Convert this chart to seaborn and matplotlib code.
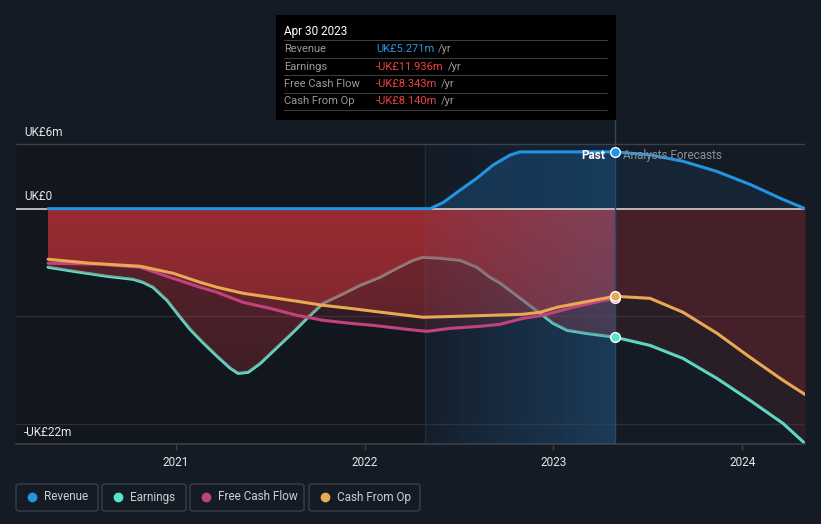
import numpy as np
import pandas as pd
import matplotlib
matplotlib.use("Agg")
import matplotlib.pyplot as plt
from matplotlib.patches import FancyBboxPatch, Rectangle, PathPatch
from matplotlib.lines import Line2D
from matplotlib.colors import to_rgb
import seaborn as sns

# ---------------- data (UK£ m, x in decimal years) ----------------
revenue_years = [2020.322, 2022.346, 2022.415, 2022.505, 2022.595, 2022.680, 2022.770, 2022.823, 2023.326]
revenue_vals = [0.0, 0.0, 0.56, 1.72, 2.84, 4.05, 4.98, 5.27, 5.271]

earnings_years = [2020.322, 2020.454, 2020.634, 2020.772, 2020.825, 2020.878, 2020.952, 2021.021,
                  2021.074, 2021.143, 2021.217, 2021.286, 2021.329, 2021.382, 2021.445, 2021.535,
                  2021.620, 2021.694, 2021.779, 2021.869, 2021.975, 2022.081, 2022.171, 2022.256,
                  2022.309, 2022.399, 2022.505, 2022.595, 2022.664, 2022.717, 2022.839, 2022.929,
                  2022.998, 2023.072, 2023.178, 2023.326]
earnings_vals = [-5.44, -5.81, -6.28, -6.56, -6.84, -7.30, -8.51, -10.05, -11.2, -12.45, -13.7,
                 -14.8, -15.30, -15.2, -14.4, -12.9, -11.49, -10.19, -8.79, -8.05, -7.12, -6.37,
                 -5.53, -4.79, -4.51, -4.60, -4.79, -5.44, -6.37, -6.9, -8.51, -9.72, -10.65,
                 -11.30, -11.6, -11.936]

fcf_years = [2020.322, 2020.597, 2020.809, 2020.984, 2021.127, 2021.217, 2021.355, 2021.498, 2021.641,
             2021.779, 2021.922, 2022.044, 2022.224, 2022.330, 2022.452, 2022.611, 2022.717, 2022.839,
             2022.945, 2023.104, 2023.247, 2023.326]
fcf_vals = [-5.07, -5.16, -5.44, -6.47, -7.30, -7.77, -8.70, -9.26, -9.91, -10.37, -10.65, -10.84,
            -11.21, -11.40, -11.12, -10.93, -10.74, -10.19, -9.91, -9.16, -8.60, -8.343]

cfo_years = [2020.322, 2020.544, 2020.809, 2020.984, 2021.127, 2021.217, 2021.355, 2021.498, 2021.641,
             2021.779, 2021.922, 2022.044, 2022.224, 2022.309, 2022.489, 2022.664, 2022.839, 2022.929,
             2023.019, 2023.157, 2023.326]
cfo_vals = [-4.70, -5.07, -5.35, -6.00, -6.84, -7.30, -7.86, -8.23, -8.60, -8.98, -9.26, -9.53,
            -9.91, -10.09, -10.00, -9.91, -9.81, -9.63, -9.16, -8.70, -8.140]

fc_years = [2023.326, 2023.512, 2023.687, 2023.867, 2024.042, 2024.217, 2024.333]
revenue_fc = [5.271, 5.0, 4.4, 3.45, 2.25, 0.85, 0.0]
earnings_fc = [-11.936, -12.70, -13.91, -15.77, -17.81, -19.95, -21.81]
cfo_fc = [-8.140, -8.33, -9.63, -11.58, -13.81, -15.95, -17.26]

year_ticks = [2021, 2022, 2023, 2024]
y_labels = ["UK£6m", "UK£0", "-UK£22m"]
series_names = ["Revenue", "Earnings", "Free Cash Flow", "Cash From Op"]
tooltip_date = "Apr 30 2023"
tooltip_values = ["UK£5.271m", "-UK£11.936m", "-UK£8.343m", "-UK£8.140m"]

# ---------------- style ----------------
BG = "#151b24"
C_REV = "#2394df"
C_EARN = "#58e3cc"
C_FCF = "#c4417f"
C_CFO = "#e9a852"
C_FILL = "#be323a"

sns.set_theme(style="dark")
plt.rcParams["font.family"] = ["Roboto", "DejaVu Sans"]

W, H = 821, 524
fig = plt.figure(figsize=(W / 100, H / 100), dpi=100, facecolor=BG)


def fx(px):
    return px / W


def fy(py):
    return 1 - py / H


ax = fig.add_axes([fx(16), fy(444), fx(805) - fx(16), fy(118) - fy(444)])
ax.set_facecolor(BG)
x0, x1 = 2020.152, 2024.333
y0, y1 = -21.86, 8.42
ax.set_xlim(x0, x1)
ax.set_ylim(y0, y1)
for s in ["top", "right", "left"]:
    ax.spines[s].set_visible(False)
ax.spines["bottom"].set_color("#3a4049")
ax.spines["bottom"].set_linewidth(1.2)
ax.grid(False)

split = revenue_years[-1]
hl_start = 2022.32
top_grid = 6


def grad_fill(xs, ys, color, a_top, a_bot, z, top=0.0, bottom=y0):
    poly = ax.fill_between(xs, 0, ys, facecolor="none", lw=0)
    clip = PathPatch(poly.get_paths()[0], transform=ax.transData, facecolor="none", edgecolor="none")
    ax.add_patch(clip)
    n = 256
    rgba = np.zeros((n, 1, 4))
    rgba[:, 0, :3] = to_rgb(color)
    rgba[:, 0, 3] = np.linspace(a_top, a_bot, n)
    im = ax.imshow(rgba, extent=[min(xs), max(xs), bottom, top], aspect="auto",
                   origin="upper", zorder=z, interpolation="bilinear")
    im.set_clip_path(clip)
    ax.set_xlim(x0, x1)
    ax.set_ylim(y0, y1)


# darker area left of highlight (below the top grid line)
ax.fill_between([x0, hl_start], y0, top_grid, color="#0c0f14", alpha=0.3, lw=0, zorder=0)

# highlight band gradient (blue) under the fills
grad = np.linspace(0.0, 1.0, 256).reshape(1, -1)
cmap_hl = matplotlib.colors.LinearSegmentedColormap.from_list("hl", ["#141b26", "#12263a"])
ax.imshow(grad, extent=[hl_start, split, y0, top_grid], aspect="auto", cmap=cmap_hl,
          zorder=0.5, origin="lower")
ax.plot([hl_start, hl_start], [y0, top_grid], color="#1d2c3b", lw=1, zorder=0.6)
ax.set_xlim(x0, x1)
ax.set_ylim(y0, y1)

# grid lines
ax.axhline(top_grid, color="#3a4049", lw=1, zorder=1)
ax.axhline(-10, color="#2a2f37", lw=1, zorder=1)
ax.axhline(-20, color="#2a2f37", lw=1, zorder=1)

# revenue fills
ax.fill_between(revenue_years, 0, revenue_vals, color="#1f5f95", alpha=0.38, lw=0, zorder=1.2)
ax.fill_between(fc_years, 0, revenue_fc, color="#1d4f7a", alpha=0.2, lw=0, zorder=1.2)

# earnings line (sits under the translucent area fills)
sns.lineplot(x=earnings_years, y=earnings_vals, ax=ax, color=C_EARN, lw=2.2, zorder=2)
sns.lineplot(x=fc_years, y=earnings_fc, ax=ax, color=C_EARN, lw=2.2, zorder=2)

# translucent red area fills (0 -> each series)
grad_fill(earnings_years, earnings_vals, C_FILL, 0.46, 0.18, 3.0)
grad_fill(fcf_years, fcf_vals, C_FILL, 0.25, 0.08, 3.1)
grad_fill(cfo_years, cfo_vals, C_FILL, 0.48, 0.2, 3.2)
ax.fill_between(fc_years, 0, earnings_fc, color=C_FILL, alpha=0.12, lw=0, zorder=3.0)
ax.fill_between(fc_years, 0, cfo_fc, color=C_FILL, alpha=0.19, lw=0, zorder=3.1)

# blue highlight overlay on top of the fills (gives the pinkish tint)
rgba = np.zeros((1, 256, 4))
rgba[0, :, :3] = to_rgb("#3a78b0")
rgba[0, :, 3] = np.linspace(0.04, 0.26, 256)
ax.imshow(rgba, extent=[hl_start, split, y0, 0], aspect="auto", origin="lower", zorder=3.3)
ax.set_xlim(x0, x1)
ax.set_ylim(y0, y1)

# zero line
ax.axhline(0, color="#c9c4c4", lw=1.3, zorder=3.5)

# other lines
sns.lineplot(x=revenue_years, y=revenue_vals, ax=ax, color=C_REV, lw=2.2, zorder=4)
sns.lineplot(x=fc_years, y=revenue_fc, ax=ax, color=C_REV, lw=2.2, zorder=4)
sns.lineplot(x=fcf_years, y=fcf_vals, ax=ax, color=C_FCF, lw=2.2, zorder=4)
sns.lineplot(x=cfo_years, y=cfo_vals, ax=ax, color=C_CFO, lw=2.2, zorder=4.1)
sns.lineplot(x=fc_years, y=cfo_fc, ax=ax, color=C_CFO, lw=2.2, zorder=4.1)

# vertical past/forecast divider
ax.axvline(split, color="#2a4a66", lw=1, zorder=3.6)

# markers at split
for v, c in [(fcf_vals[-1], C_FCF), (earnings_vals[-1], C_EARN), (cfo_vals[-1], C_CFO), (revenue_vals[-1], C_REV)]:
    ax.plot([split], [v], "o", ms=7, mfc=c, mec="white", mew=1.0, zorder=6)

ax.set_xlim(x0, x1)
ax.set_ylim(y0, y1)
ax.set_xlabel("")
ax.set_ylabel("")
ax.set_xticks(year_ticks)
ax.set_xticklabels([str(y) for y in year_ticks])
ax.tick_params(axis="x", colors="#3a4049", length=4, width=1, pad=5, labelsize=8.5, labelcolor="#e6e6e6",
               direction="out", bottom=True)
ax.set_yticks([])

# y labels
for lab, py in zip(y_labels, [132, 196, 432]):
    fig.text(fx(24), fy(py), lab, color="#e6e6e6", fontsize=8.5, va="center", ha="left")

# past / forecast labels
fig.text(fx(605), fy(156), "Past", color="#ffffff", fontsize=8.5, ha="right", va="center", fontweight="bold")
fig.text(fx(623), fy(156), "Analysts Forecasts", color="#8b9097", fontsize=8.5, ha="left", va="center")

# tooltip
fig.add_artist(Rectangle((fx(276), fy(120)), fx(616) - fx(276), fy(15) - fy(120),
                         facecolor="#000000", edgecolor="none", zorder=10))
fig.text(fx(284), fy(31), tooltip_date, color="#ffffff", fontsize=8.5, va="center", zorder=11)
val_colors = ["#2e95e0", "#ef4040", "#ef4040", "#ef4040"]
for i, (name, val, vc) in enumerate(zip(series_names, tooltip_values, val_colors)):
    py = 49 + i * 17.5
    fig.add_artist(Line2D([fx(284), fx(607)], [fy(py - 9), fy(py - 9)], color="#3c3c3c", lw=0.8, zorder=11))
    fig.text(fx(284), fy(py), name, color="#9a9a9a", fontsize=8, va="center", zorder=11)
    t = fig.text(fx(376), fy(py), val, color=vc, fontsize=8, va="center", zorder=11)
    fig.canvas.draw()
    bb = t.get_window_extent()
    fig.text(bb.x1 / W + fx(4), fy(py), "/yr", color="#9a9a9a", fontsize=8, va="center", zorder=11)
fig.add_artist(Line2D([fx(284), fx(607)], [fy(110), fy(110)], color="#3c3c3c", lw=0.8, zorder=11))

# legend
boxes = [(16, 98), (102, 186), (190, 304), (309, 420)]
colors = [C_REV, C_EARN, C_FCF, C_CFO]
for (bx0, bx1), name, c in zip(boxes, series_names, colors):
    fig.add_artist(FancyBboxPatch((fx(bx0), fy(511)), fx(bx1) - fx(bx0), fy(484) - fy(511),
                                  boxstyle="round,pad=0,rounding_size=0.004", facecolor="none",
                                  edgecolor="#3a4049", lw=1))
    fig.add_artist(Line2D([fx(bx0 + 16)], [fy(497)], marker="o", ms=6, color=c, mec=c))
    fig.text(fx(bx0 + 28), fy(497), name, color="#cfcfcf", fontsize=8.5, va="center", ha="left")

fig.savefig("out.png", dpi=100, facecolor=BG)
